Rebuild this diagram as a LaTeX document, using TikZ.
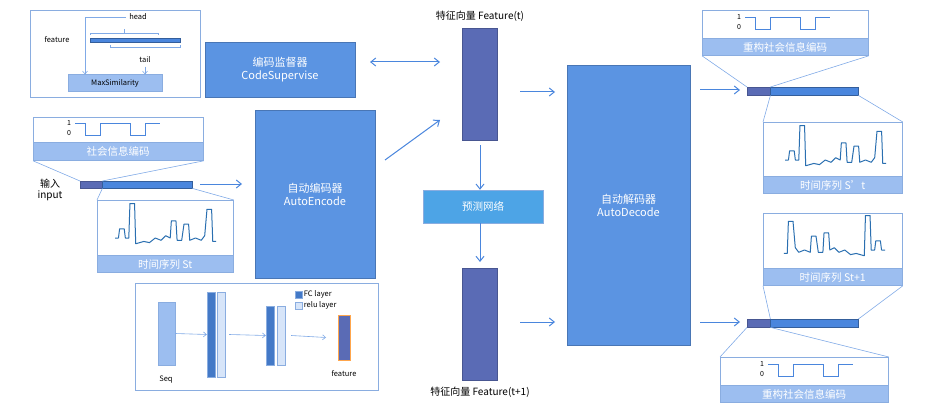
\documentclass[tikz,border=0pt]{standalone}
\usepackage{fontspec}
\setmainfont{Noto Sans CJK SC}
\usetikzlibrary{arrows.meta}
\definecolor{mblue}{HTML}{5B94E2}
\definecolor{band}{HTML}{9CBEF0}
\definecolor{bord}{HTML}{8AADE0}
\definecolor{feat}{HTML}{5A6BB5}
\definecolor{ln}{HTML}{4A86DD}
\definecolor{tsc}{HTML}{2A6FB0}
\begin{document}
\begin{tikzpicture}[x=1pt,y=-1pt,
 big/.style={fill=mblue,draw=mblue!80!black,text=white,align=center,font=\fontsize{11}{13}\selectfont},
 arr/.style={-{Straight Barb[length=5pt,width=8pt]},ln,line width=1pt},
 frame/.style={draw=bord,line width=0.8pt,fill=white},
 bandst/.style={fill=band,draw=bord,text=white,font=\fontsize{10.5}{12}\selectfont,inner sep=0pt},
 zl/.style={ln!70,line width=0.6pt},
 fbar/.style={fill=feat,draw=feat!80!black},
 sq/.pic={\node[font=\fontsize{7}{7}\selectfont,inner sep=0] at (-6,-6) {1};
   \node[font=\fontsize{7}{7}\selectfont,inner sep=0] at (-6,4) {0};
   \draw[ln,line width=0.8pt] (0,-6)--(10,-6)--(10,6)--(25,6)--(25,-6)--(55,-6)--(55,6)--(70,6)--(70,-6)--(85,-6);},
 ts/.pic={\draw[tsc,line width=1pt,line join=round] (0,0)--(3,0)--(4,-8)--(8,-8)--(9,0)--(12,0)--(13,-30)--(17,-30)--(18,5)--(25,3)--(30,4)--(35,0)--(40,2)--(44,-2)--(48,0)--(49,-15)--(53,-15)--(54,2)--(58,2)--(60,-12)--(64,-12)--(65,2)--(70,0)--(75,2)--(78,-2)--(80,-25)--(84,-25)--(85,3)--(88,3);}
]
\useasboundingbox (0,0) rectangle (930,420);
% top-left box
\node[frame,minimum width=170,minimum height=87,anchor=north west] (tl) at (30,10) {};
\node[font=\fontsize{7.5}{8}\selectfont] (hd) at (138,17) {head};
\node[font=\fontsize{7.5}{8}\selectfont] (fe) at (57,40) {feature};
\node[fill=ln,draw=ln!70!black,minimum width=90,minimum height=4,inner sep=0,anchor=west] (fb) at (90,40) {};
\node[fill=band,draw=bord,font=\fontsize{7.5}{8}\selectfont,minimum width=94,minimum height=17,inner sep=0] (ms) at (115,83) {MaxSimilarity};
\draw[ln!70,line width=0.6pt] (90,35)--(90,33)--(158,33)--(158,35) (124,33)--(124,29);
\draw[ln!70,line width=0.6pt] (110,45)--(110,47)--(180,47)--(180,45);
\node[font=\fontsize{7.5}{8}\selectfont] (tail) at (145,60) {tail};
\draw[ln!70,line width=0.6pt,-{Straight Barb[length=3pt,width=5pt]}] (hd.west)-|(85,74.5);
\draw[ln!70,line width=0.6pt,-{Straight Barb[length=3pt,width=5pt]}] (tail.south)--(145,74.5);
% CodeSupervise
\node[big,minimum width=150,minimum height=55] (cs) at (280,69.5) {编码监督器\\CodeSupervise};
% features
\node[font=\fontsize{10}{12}\selectfont] (ftl) at (480,16) {特征向量 Feature(t)};
\node[fbar,minimum width=35,minimum height=112,inner sep=0] (ft) at (479.5,84) {};
\node[fbar,minimum width=35,minimum height=112,inner sep=0] (ft1) at (479.5,324) {};
\node[font=\fontsize{10}{12}\selectfont] (ft1l) at (480,392) {特征向量 Feature(t+1)};
\draw[{Straight Barb[length=5pt,width=8pt]}-{Straight Barb[length=5pt,width=8pt]},ln,line width=1pt] (370,62)--(440,62);
% AutoEncode
\node[big,minimum width=120,minimum height=168] (ae) at (315,194) {自动编码器\\AutoEncode};
\coordinate (a1) at (385,160); \coordinate (a2) at (440,120);
\draw[arr] (a1)--(a2);
% predict
\node[fill=mblue!85!cyan,draw=bord,text=white,minimum width=120,minimum height=33,font=\fontsize{10.5}{12}\selectfont] (pn) at (483,206.5) {预测网络};
\draw[arr] (480,145)--(pn.north-|480,0);
\draw[arr] (pn.south-|480,0)--(480,262);
% AutoDecode
\node[big,minimum width=123,minimum height=280] (ad) at (628.5,205) {自动解码器\\AutoDecode};
\draw[arr] (520,92)--(555,92);
\draw[arr] (520,322)--(555,322);
% input
\node[align=center,font=\fontsize{10}{11}\selectfont,inner sep=0] (in) at (50,190) {输入\\input};
\node[fbar,minimum width=22,minimum height=7,inner sep=0,anchor=north west] (id) at (80,181) {};
\node[fill=ln,draw=ln!70!black,minimum width=90,minimum height=7,inner sep=0,anchor=north west] (il) at (102,181) {};
\draw[arr] (200,184)--(242,184);
% social code box left
\node[frame,minimum width=170,minimum height=43,anchor=north west] (sb1) at (33,117) {};
\node[bandst,minimum width=170,minimum height=18,anchor=south west] at (sb1.south west) {社会信息编码};
\pic at (75,129) {sq};
\draw[zl] (sb1.south west)--(id.north west) (sb1.south east)--(id.north east);
% St box
\node[frame,minimum width=136,minimum height=72,anchor=north west] (st) at (97,200) {};
\node[bandst,minimum width=136,minimum height=17,anchor=south west] at (st.south west) {时间序列 St};
\pic[scale=1.15] at (115,238) {ts};
\draw[zl] (id.south east)--(st.north west) (il.south east)--(st.north east);
% network box
\node[frame,minimum width=243,minimum height=107,anchor=north west] (nb) at (135,283) {};
\node[fill=band,draw=bord,minimum width=17,minimum height=63,inner sep=0] (seq) at (166.5,333.5) {};
\node[fill=ln!90!black,draw=bord,minimum width=8,minimum height=85,inner sep=0] (fc1) at (211,334.5) {};
\node[fill=band!40,draw=bord,minimum width=8,minimum height=85,inner sep=0] (r1) at (221,334.5) {};
\node[fill=ln!90!black,draw=bord,minimum width=8,minimum height=59,inner sep=0] (fc2) at (270,335.5) {};
\node[fill=band!40,draw=bord,minimum width=8,minimum height=59,inner sep=0] (r2) at (281,335.5) {};
\node[fill=feat,draw=orange!70,minimum width=12,minimum height=45,inner sep=0] (nf) at (344,337.5) {};
\draw[ln!70,line width=0.6pt,-{Straight Barb[length=3pt,width=5pt]}] (seq.east)--(fc1.west);
\draw[ln!70,line width=0.6pt,-{Straight Barb[length=3pt,width=5pt]}] (r1.east)++(4,0)--(fc2.west);
\draw[ln!70,line width=0.6pt,-{Straight Barb[length=3pt,width=5pt]}] (r2.east)++(6,0)--(326,337.5);
\node[font=\fontsize{7.5}{8}\selectfont] at (166,380) {Seq};
\node[font=\fontsize{7.5}{8}\selectfont] at (344,374) {feature};
\node[fill=ln!90!black,draw=bord,minimum size=7,inner sep=0] (lg1) at (299,294.5) {};
\node[fill=band!40,draw=bord,minimum size=7,inner sep=0] (lg2) at (299,305.5) {};
\node[anchor=west,font=\fontsize{7.5}{8}\selectfont,inner sep=1] at (lg1.east) {FC layer};
\node[anchor=west,font=\fontsize{7.5}{8}\selectfont,inner sep=1] at (lg2.east) {relu layer};
% right outputs
\draw[arr] (700,90)--(740,90);
\draw[arr] (700,322)--(740,322);
\node[fbar,minimum width=23,minimum height=8,inner sep=0,anchor=north west] (rd1) at (747,87) {};
\node[fill=ln,draw=ln!70!black,minimum width=88,minimum height=8,inner sep=0,anchor=north west] (rl1) at (770,87) {};
\node[fbar,minimum width=23,minimum height=8,inner sep=0,anchor=north west] (rd2) at (747,319) {};
\node[fill=ln,draw=ln!70!black,minimum width=88,minimum height=8,inner sep=0,anchor=north west] (rl2) at (770,319) {};
% top recon box
\node[frame,minimum width=166,minimum height=45,anchor=north west] (rb1) at (702,10) {};
\node[bandst,minimum width=166,minimum height=17,anchor=south west] at (rb1.south west) {重构社会信息编码};
\pic at (745,23) {sq};
\draw[zl] (rb1.south west)--(rd1.north west) (rb1.south east)--(rd1.north east);
% S't
\node[frame,minimum width=139,minimum height=71,anchor=north west] (sp) at (763,122) {};
\node[bandst,minimum width=139,minimum height=17,anchor=south west] at (sp.south west) {时间序列 S't};
\pic[scale=1.15] at (785,160) {ts};
\draw[zl] (rd1.south east)--(sp.north west) (rl1.south east)--(sp.north east);
% St+1
\node[frame,minimum width=139,minimum height=72,anchor=north west] (sn) at (763,213) {};
\node[bandst,minimum width=139,minimum height=17,anchor=south west] at (sn.south west) {时间序列 St+1};
\begin{scope}[xscale=-1.15,yscale=1.15,shift={(-880/1.15*0-0,0)}]\end{scope}
\pic[xscale=-1.15,yscale=1.15] at (885,250) {ts};
\draw[zl] (sn.south west)--(rd2.north east) (sn.south east)--(rl2.north east);
% bottom recon box
\node[frame,minimum width=168,minimum height=45,anchor=north west] (rb2) at (720,357) {};
\node[bandst,minimum width=168,minimum height=17,anchor=south west] at (rb2.south west) {重构社会信息编码};
\pic at (768,370) {sq};
\draw[zl] (rd2.south west)--(rb2.north west) (rd2.south east)--(rb2.north east);
\end{tikzpicture}
\end{document}
